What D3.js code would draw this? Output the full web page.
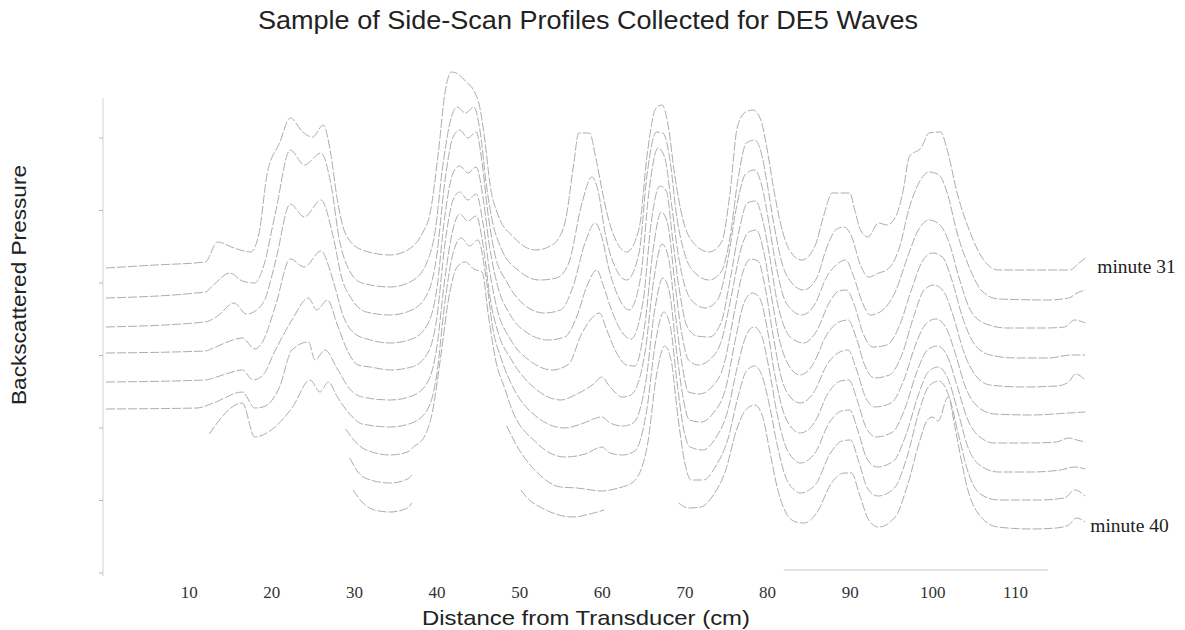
<!DOCTYPE html>
<html>
<head>
<meta charset="utf-8">
<script src="https://cdn.jsdelivr.net/npm/d3@7"></script>
<style>
  body { margin: 0; background: #fff; }
  svg { display: block; }
</style>
</head>
<body>
<svg width="1185" height="630"></svg>
<script>
// side-scan profiles, [distance cm, backscatter above own baseline]; null = trace lost in the scan
const minute31 = [[0,-4],[6,-1],[12,2],[13.5,22],[15.5,16],[17.5,12],[18.5,30],[19.5,90],[21,121],[22.3,146],[23.8,132],[25,127],[26.3,139],[27.2,110],[28,64],[29,30],[31,14],[34.4,9],[36.5,14],[38.3,31],[39.2,50],[40.2,110],[41,170],[41.8,192],[42.6,190],[43.6,182],[44.4,175],[45.3,154],[45.9,120],[46.5,78],[47.4,50],[49.3,27],[52,14],[54,19],[55.5,40],[56.6,100],[57.2,131],[58.5,131],[59.3,105],[60,75],[60.8,45],[61.8,22],[63,12],[64.5,35],[65.5,110],[66.5,155],[67.3,159],[68,140],[68.8,90],[69.8,45],[71,22],[73,12],[74.5,22],[75.5,70],[76.4,137],[77.4,152],[78.3,154],[79.2,145],[80,115],[80.8,75],[81.7,38],[82.7,14],[84.2,4],[85.8,18],[86.8,47],[87.9,71],[90,71],[90.6,54],[91.3,34],[92.2,27],[93.5,41],[94.5,39],[95.7,50],[96.5,75],[97.2,107],[98.7,117],[99.6,131],[101,132],[101.8,114],[103,71],[104.6,31],[106.2,4],[108,-6],[113,-6],[116.7,-6],[117.6,0],[118.5,6]];
const minute32 = [[0,-5],[12,1],[13,8],[15,20],[16.5,12],[18,10],[19,25],[20.5,80],[22.3,143],[24,128],[26,140],[27.3,105],[28.2,55],[29.3,25],[31,10],[34.4,6],[37,12],[38.8,30],[39.8,60],[40.8,130],[41.8,176],[42.5,186],[43.5,180],[44.5,186],[45.3,160],[46,110],[46.8,70],[47.8,45],[50,22],[52.5,13],[54.5,15],[56,30],[57.6,90],[58.8,116],[59.6,100],[60.4,60],[61.5,28],[63,13],[64.5,40],[65.5,120],[66.6,161],[67.4,160],[68.3,130],[69,80],[70,40],[71.3,20],[73,13],[74.5,22],[75.5,55],[76.5,115],[77.5,150],[78.5,153],[79.3,140],[80,110],[80.8,70],[81.8,30],[83,10],[84.4,3],[86,15],[87.2,45],[88.3,63],[89.3,66],[90.3,55],[91.2,30],[92.3,16],[93.5,20],[94.5,23],[96,45],[97.2,85],[98.5,112],[99.6,121],[100.8,118],[101.8,100],[103,60],[104.5,25],[106,2],[108,-6],[114,-7],[116.5,-5],[117.5,0],[118.5,3]];
const minute33 = [[0,-5],[12,0],[13.5,6],[15.5,19],[17,8],[18.5,14],[19.2,22],[20.5,60],[22.3,118],[24,105],[26,122],[27.5,85],[28.5,45],[29.8,22],[31.5,10],[34.4,7],[37,12],[39,30],[40,65],[41,140],[42,185],[42.8,192],[43.8,184],[44.8,190],[45.5,160],[46.2,110],[47,70],[48.5,40],[50.5,18],[53,9],[55,12],[56.5,35],[58,80],[59.2,99],[60,85],[60.8,55],[62,25],[63.3,12],[64.7,45],[65.7,130],[66.8,174],[67.6,165],[68.4,120],[69.2,70],[70.2,32],[71.5,17],[72.5,14],[74,22],[75.2,60],[76.3,115],[77.4,148],[78.5,152],[79.4,135],[80.2,100],[81,60],[82,25],[83,12],[84.2,7],[85.8,18],[87.2,45],[88.5,58],[89.5,62],[90.5,45],[91.5,20],[92.5,7],[94,12],[95.5,30],[97,65],[98.3,92],[99.6,102],[100.8,98],[102,80],[103.2,45],[104.6,12],[106.5,-2],[109,-6],[114,-6],[116,-5],[117.2,2],[118.5,-1]];
const minute34 = [[0,-2],[12,0],[13,3],[15,10],[16.5,13],[18,2],[19,10],[20.5,45],[22.3,92],[24,84],[26,100],[27.5,70],[28.7,35],[30,18],[32,11],[34.4,8],[37,12],[39,28],[40,60],[41,135],[42,178],[42.8,185],[43.8,178],[44.8,184],[45.6,155],[46.4,105],[47.3,68],[49,35],[51,18],[53.5,11],[55.5,14],[57,35],[58.2,65],[59.4,81],[60.2,65],[61,45],[62.2,22],[63.5,12],[65,50],[66,130],[67,165],[67.8,160],[68.6,110],[69.4,60],[70.3,25],[71.5,15],[73,14],[74.5,30],[75.5,70],[76.6,120],[77.6,148],[78.6,150],[79.5,130],[80.3,95],[81.2,50],[82.3,20],[83.5,10],[84.4,8],[86,20],[87.5,48],[88.7,60],[89.6,61],[90.6,45],[91.6,18],[92.8,4],[94.5,6],[96,25],[97.5,62],[98.8,90],[100,98],[101.2,94],[102.4,70],[103.6,35],[105,8],[107,-4],[110,-7],[114,-7],[116.8,-4],[118.5,-4]];
const minute35 = [[0,-2],[12,0],[13,2],[14.5,6],[16.5,10],[17.8,0],[19,5],[20.5,30],[22.5,60],[24.5,82],[25.5,70],[26.8,80],[28,55],[29.3,28],[30.5,15],[32,13],[34.4,10],[37,13],[39,28],[40,60],[41,135],[42,180],[42.8,188],[43.8,180],[44.8,186],[45.6,158],[46.4,110],[47.3,72],[49,40],[51.5,18],[54,10],[56,16],[57.5,45],[58.6,60],[59.7,67],[60.6,50],[61.6,30],[63,15],[64,14],[65.2,55],[66.2,130],[67.2,168],[68,155],[68.8,100],[69.6,50],[70.5,20],[71.7,15],[73,20],[74.5,40],[75.7,85],[76.8,130],[77.8,148],[78.7,150],[79.6,128],[80.5,85],[81.5,40],[82.6,15],[84,5],[85.5,15],[87.2,45],[88.7,58],[89.8,60],[90.8,42],[91.8,15],[93,2],[94.8,5],[96.3,25],[97.8,65],[99,90],[100.2,95],[101.4,88],[102.6,62],[103.8,28],[105.2,5],[107,-5],[111,-7],[115,-6],[116.5,-2],[117.3,6],[118.5,0]];
const minute36 = [[0,0],[11,1],[13,6],[16.5,17],[18,1],[19,2],[21,22],[22.5,59],[24.5,67],[25.3,49],[26.5,59],[28,40],[29.5,20],[31,12],[34.4,9],[37,13],[39,28],[40,60],[41,130],[42,180],[42.8,195],[43.8,188],[44.8,193],[45.7,160],[46.5,110],[47.5,75],[49,50],[52,20],[55,9],[57,15],[59,25],[60,32],[61,22],[62.5,12],[63.5,14],[65.2,55],[66.3,130],[67.3,165],[68.1,150],[68.9,95],[69.7,45],[70.5,17],[71.8,15],[73.3,22],[74.8,45],[76,95],[77,135],[78,150],[78.9,148],[79.8,120],[80.7,75],[81.7,32],[82.8,12],[84,6],[85.6,16],[87.3,45],[88.8,57],[89.8,59],[90.8,40],[91.9,12],[93,2],[95,6],[96.5,28],[98,65],[99.2,85],[100.4,90],[101.6,82],[102.8,55],[104,22],[105.4,3],[107.5,-5],[112,-6],[116.5,-4],[118.5,-3]];
const minute37 = [[12.5,4],[13,10],[16.5,35],[18,1],[20,8],[22.5,30],[24.7,58],[25.9,46],[26.9,56],[28,41],[29.5,24],[31,14],[34.4,11],[37,15],[39,30],[40,62],[41,135],[42,185],[43,200],[44,192],[45,198],[46,160],[46.8,110],[47.8,80],[49,55],[52,22],[55.5,10],[57.5,14],[60,21],[61,15],[62.5,12],[63.8,15],[65.3,55],[66.4,128],[67.4,160],[68.2,145],[69,90],[69.8,42],[70.6,18],[72,16],[73.5,25],[75,50],[76.2,100],[77.2,135],[78.2,145],[79.1,140],[80,110],[80.9,65],[81.9,28],[83,10],[84,5],[85.7,15],[87.4,45],[88.9,57],[89.9,58],[90.9,38],[92,10],[93.2,1],[95.2,6],[96.7,30],[98.2,68],[99.4,88],[100.6,92],[101.8,82],[103,52],[104.2,20],[105.6,2],[107.5,-5],[112,-5],[115,-4],[116.5,0],[117.5,-2],[118.5,-4]];
const minute38 = [[29,38],[30.2,25],[31.5,17],[34.4,12],[36.5,15],[37.2,20],[38.5,30],[39.5,55],[40.5,110],[41.5,170],[42.5,200],[43.5,205],[44.5,198],[45.5,195],[46.3,150],[47.2,105],[48.2,80],[49,60],[52,25],[55.5,10],[58,13],[60,20],[61,14],[62.5,12],[64,16],[65.4,55],[66.5,125],[67.5,155],[68.3,140],[69.1,85],[69.9,38],[70.7,20],[72.2,17],[73.7,28],[75.2,55],[76.4,100],[77.4,130],[78.4,140],[79.3,132],[80.2,100],[81.1,58],[82.1,24],[83.2,8],[84,4],[85.8,14],[87.5,44],[89,56],[90,57],[91,36],[92.1,8],[93.3,0],[95.3,6],[96.8,32],[98.3,72],[99.5,95],[100.7,100],[101.9,88],[103.1,55],[104.3,20],[105.7,2],[108,-5],[112,-5],[115.5,-3],[117.2,0],[118.5,-2]];
const minute39 = [[29.5,38],[30.5,24],[32,16],[34.4,13],[36.5,17],[37.1,22],[37.2,null],[48.5,70],[49.8,49],[52,25],[55,9],[57,8],[60,5],[62,8],[63.8,14],[65.5,50],[66.6,120],[67.6,150],[68.4,135],[69.2,80],[70,35],[70.8,16],[72.3,16],[73.8,30],[75.3,58],[76.5,100],[77.5,125],[78.5,130],[79.4,120],[80.3,90],[81.2,52],[82.2,20],[83.3,6],[84,3],[85.9,12],[87.6,42],[89.1,55],[90.1,56],[91.1,34],[92.2,7],[93.4,0],[95.4,8],[96.9,38],[98.4,85],[99.6,110],[100.8,115],[102,100],[103.2,60],[104.4,22],[105.8,2],[108,-4],[113,-4],[116,-2],[117.2,6],[118.5,0]];
const minute40 = [[29.9,35],[31.1,22],[32.5,15],[34.4,13],[36.5,17],[37,22],[37.1,null],[50.2,35],[51,27],[53,16],[56.5,8],[59,12],[60.3,15],[60.4,null],[69.3,22],[70.5,17],[72,18],[73.5,30],[75,55],[76.3,95],[77.4,115],[78.5,120],[79.4,110],[80.3,75],[81.3,35],[82.3,12],[83.5,3],[84.5,2],[86,12],[87.8,42],[89.3,52],[90.2,52],[91.2,30],[92.3,5],[93.5,-2],[95.5,8],[97,40],[98.5,85],[99.4,105],[100,108],[100.7,104],[101.9,128],[102.8,95],[103.5,65],[104.2,38],[105.5,12],[107.9,-2],[112,-4],[115,-3],[116.5,0],[117.4,7],[118.5,3]];

const profiles = [minute31, minute32, minute33, minute34, minute35, minute36, minute37, minute38, minute39, minute40];
const endLabels = ["minute 31", "minute 40"];
const xTickValues = [10, 20, 30, 40, 50, 60, 70, 80, 90, 100, 110];
const yTickValues = [-47.5, 25, 97.5, 170, 242.5, 315, 387.5];
const stackStep = 29; // vertical offset between successive minutes

const svg = d3.select("svg");

const x = d3.scaleLinear().domain([0, 110]).range([106, 1015]);
const y = d3.scaleLinear().domain([-60, 450]).range([585, 75]);

// back-to-front drawing with white fill underneath gives hidden-line removal
const gProfiles = svg.append("g");
profiles.forEach((pts, i) => {
  const lift = (profiles.length - 1 - i) * stackStep;
  const defined = d => d[1] !== null;
  const area = d3.area()
    .defined(defined)
    .x(d => x(d[0]))
    .y0(y(-60))
    .y1(d => y(d[1] + lift))
    .curve(d3.curveMonotoneX);
  const line = d3.line()
    .defined(defined)
    .x(d => x(d[0]))
    .y(d => y(d[1] + lift))
    .curve(d3.curveMonotoneX);
  gProfiles.append("path")
    .attr("d", area(pts))
    .attr("fill", "#fff")
    .attr("stroke", "none");
  gProfiles.append("path")
    .attr("d", line(pts))
    .attr("fill", "none")
    .attr("stroke", "#adadad")
    .attr("stroke-width", 1)
    .attr("stroke-dasharray", "9,2");
});

// y axis: faint line with ticks, no labels
const yAxis = svg.append("g")
  .attr("transform", "translate(103,0)")
  .call(d3.axisLeft(y).tickValues(yTickValues).tickSize(4).tickFormat(""));
yAxis.select(".domain").remove();
yAxis.selectAll(".tick line").attr("stroke", "#b5b5b5");
yAxis.append("line")
  .attr("y1", 98).attr("y2", 576)
  .attr("stroke", "#d2d2d2");

// x axis: labels only, plus faded baseline segment that survived in the scan
const xAxis = svg.append("g")
  .attr("transform", "translate(0,578)")
  .call(d3.axisBottom(x).tickValues(xTickValues).tickSize(0).tickPadding(8));
xAxis.select(".domain").remove();
xAxis.selectAll(".tick text")
  .attr("font-family", "Liberation Serif, Times New Roman, serif")
  .attr("font-size", 17)
  .attr("fill", "#333");

svg.append("line")
  .attr("x1", x(82)).attr("x2", x(114))
  .attr("y1", 570).attr("y2", 570)
  .attr("stroke", "#c8c8c8")
  .attr("stroke-width", 1);

// end labels
[0, profiles.length - 1].forEach((i, k) => {
  const pts = profiles[i];
  const last = pts[pts.length - 1];
  const lift = (profiles.length - 1 - i) * stackStep;
  svg.append("text")
    .attr("x", x(last[0]) + (k === 0 ? 12 : 5))
    .attr("y", y(lift) + (k === 0 ? 2 : 0))
    .attr("dy", "0.35em")
    .attr("font-family", "Liberation Serif, Times New Roman, serif")
    .attr("font-size", 19.5)
    .attr("fill", "#222")
    .text(endLabels[k]);
});

svg.append("text")
  .attr("x", 588).attr("y", 29)
  .attr("text-anchor", "middle")
  .attr("font-family", "Liberation Sans, Arial, sans-serif")
  .attr("font-size", 26)
  .attr("textLength", 660)
  .attr("lengthAdjust", "spacingAndGlyphs")
  .attr("fill", "#222")
  .text("Sample of Side-Scan Profiles Collected for DE5 Waves");

svg.append("text")
  .attr("x", 586).attr("y", 625)
  .attr("text-anchor", "middle")
  .attr("font-family", "Liberation Sans, Arial, sans-serif")
  .attr("font-size", 21)
  .attr("textLength", 328)
  .attr("lengthAdjust", "spacingAndGlyphs")
  .attr("fill", "#222")
  .text("Distance from Transducer (cm)");

svg.append("text")
  .attr("transform", "translate(26,285) rotate(-90)")
  .attr("text-anchor", "middle")
  .attr("font-family", "Liberation Sans, Arial, sans-serif")
  .attr("font-size", 20)
  .attr("textLength", 240)
  .attr("lengthAdjust", "spacingAndGlyphs")
  .attr("fill", "#222")
  .text("Backscattered Pressure");
</script>
</body>
</html>
